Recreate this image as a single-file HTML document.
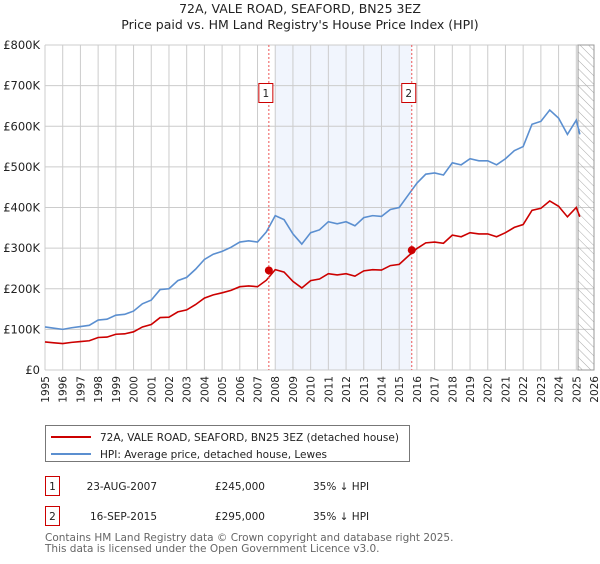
<!DOCTYPE html>
<html><head><meta charset="utf-8"><style>
body{margin:0;background:#fff;font-family:"DejaVu Sans","Liberation Sans",sans-serif;}
svg text{font-family:"DejaVu Sans","Liberation Sans",sans-serif;}
</style></head><body>
<svg id="chart" width="600" height="560" xmlns="http://www.w3.org/2000/svg">
<text x="300" y="13" text-anchor="middle" font-size="12.5" fill="#222">72A, VALE ROAD, SEAFORD, BN25 3EZ</text>
<text x="300" y="29" text-anchor="middle" font-size="12.5" fill="#222">Price paid vs. HM Land Registry's House Price Index (HPI)</text>
<g id="grid"></g><g id="marks"></g>
<g>
<rect x="45.5" y="425.5" width="364" height="36" fill="#fff" stroke="#777"/>
<line x1="51" y1="437" x2="91" y2="437" stroke="#cc0000" stroke-width="2"/>
<text x="100" y="441" font-size="10.5" fill="#222">72A, VALE ROAD, SEAFORD, BN25 3EZ (detached house)</text>
<line x1="51" y1="454" x2="91" y2="454" stroke="#5b8fd0" stroke-width="2"/>
<text x="100" y="458" font-size="10.5" fill="#222">HPI: Average price, detached house, Lewes</text>
</g>
<g font-size="10.5" fill="#222">
<rect x="45.5" y="476.5" width="14" height="19" fill="#fff" stroke="#cc0000"/><text x="52.5" y="490" text-anchor="middle">1</text>
<text x="157" y="490" text-anchor="end">23-AUG-2007</text><text x="265" y="490" text-anchor="end">£245,000</text><text x="313" y="490">35% ↓ HPI</text></g>
<g font-size="10.5" fill="#222">
<rect x="45.5" y="506.5" width="14" height="19" fill="#fff" stroke="#cc0000"/><text x="52.5" y="520" text-anchor="middle">2</text>
<text x="157" y="520" text-anchor="end">16-SEP-2015</text><text x="265" y="520" text-anchor="end">£295,000</text><text x="313" y="520">35% ↓ HPI</text></g>
<text x="45" y="541" font-size="10.5" fill="#666">Contains HM Land Registry data © Crown copyright and database right 2025.</text>
<text x="45" y="552" font-size="10.5" fill="#666">This data is licensed under the Open Government Licence v3.0.</text>
</svg>
<script>
const years=[1995,1995.5,1996,1996.5,1997,1997.5,1998,1998.5,1999,1999.5,2000,2000.5,2001,2001.5,2002,2002.5,2003,2003.5,2004,2004.5,2005,2005.5,2006,2006.5,2007,2007.5,2008,2008.5,2009,2009.5,2010,2010.5,2011,2011.5,2012,2012.5,2013,2013.5,2014,2014.5,2015,2015.5,2016,2016.5,2017,2017.5,2018,2018.5,2019,2019.5,2020,2020.5,2021,2021.5,2022,2022.5,2023,2023.5,2024,2024.5,2025,2025.2];
const hpi=[106,103,100,104,107,110,123,125,135,137,145,163,172,198,200,220,228,248,272,285,292,302,315,318,315,340,380,370,335,310,338,345,365,360,365,355,375,380,378,395,400,430,460,482,485,480,510,505,520,515,515,505,520,540,550,605,612,640,620,580,615,580];
const priceYears=years;
const price=[69,67,65,68,70,72,80,81,88,89,94,106,112,129,130,143,148,161,177,185,190,196,205,207,205,221,247,241,218,202,220,224,237,234,237,231,244,247,246,257,260,280,299,313,315,312,332,328,338,335,335,328,338,351,358,393,398,416,403,377,400,377];
const saleYears=[2007.64,2015.71];
const salePrices=[245,295];
const yTicks=[0,100,200,300,400,500,600,700,800];
const yLabels=["£0","£100K","£200K","£300K","£400K","£500K","£600K","£700K","£800K"];
const xTicks=[];for(let y=1995;y<=2026;y++)xTicks.push(y);
const X0=45,X1=594,Y0=370,Y1=45;
const xs=v=>X0+(v-1995)/(2026-1995)*(X1-X0);
const ys=v=>Y0-v/800*(Y0-Y1);
const NS="http://www.w3.org/2000/svg";
function mk(p,t,a){const e=document.createElementNS(NS,t);for(const k in a)e.setAttribute(k,a[k]);p.appendChild(e);return e;}
const g=document.getElementById('grid'),m=document.getElementById('marks');
let r=mk(g,'rect',{x:xs(2008),y:Y1,width:xs(saleYears[1])-xs(2008),height:Y0-Y1,fill:'#eef3fc',opacity:0.8});


xTicks.forEach(t=>{
 const l=mk(g,'line',{x1:xs(t),x2:xs(t),y1:Y1,y2:Y0,stroke:'#cccccc'});
 
 
 const tx=mk(g,'text',{x:0,y:0,'font-size':10.5,fill:'#222','text-anchor':'end',transform:`translate(${xs(t)+4},376) rotate(-90)`});
 tx.textContent=t;
 
 
});
yTicks.forEach((t,i)=>{
 const l=mk(g,'line',{x1:X0,x2:X1,y1:ys(t),y2:ys(t),stroke:'#cccccc'});
 
 
 const tx=mk(g,'text',{x:40,y:ys(t)+4,'font-size':11.5,fill:'#222','text-anchor':'end'});
 tx.textContent=yLabels[i];
 
 
});
const defs=mk(g,'defs',{});const pat=mk(defs,'pattern',{id:'h',width:6,height:6,patternUnits:'userSpaceOnUse',patternTransform:'rotate(-45)'});
mk(pat,'line',{x1:0,y1:0,x2:0,y2:6,stroke:'#aaa','stroke-width':1});
const hx=xs(2025.1);
const hr=mk(g,'rect',{x:hx,y:Y1,width:X1-hx,height:Y0-Y1,fill:'url(#h)',stroke:'#999'});


const hp=mk(m,'polyline',{points:years.map((y,i)=>xs(y)+','+ys(hpi[i])).join(' '),fill:'none',stroke:'#5b8fd0','stroke-width':1.6});


const pp=mk(m,'polyline',{points:priceYears.map((y,i)=>xs(y)+','+ys(price[i])).join(' '),fill:'none',stroke:'#cc0000','stroke-width':1.6});


saleYears.forEach((s,i)=>{
 const l=mk(m,'line',{x1:xs(s),x2:xs(s),y1:Y1,y2:Y0,stroke:'#ee5555','stroke-dasharray':'2,2'});
 
 
 const c=mk(m,'circle',{cx:xs(s),cy:ys(salePrices[i]),r:4,fill:'#cc0000'});
 
 
 const b=mk(m,'rect',{x:xs(s)-10,y:83.5,width:14,height:19,fill:'#fff',stroke:'#cc0000'});
 
 
 const t=mk(m,'text',{x:xs(s)-3,y:97,'font-size':10.5,'text-anchor':'middle',fill:'#222'});
 t.textContent=String(i+1);
 
 
});
</script>
</body></html>
